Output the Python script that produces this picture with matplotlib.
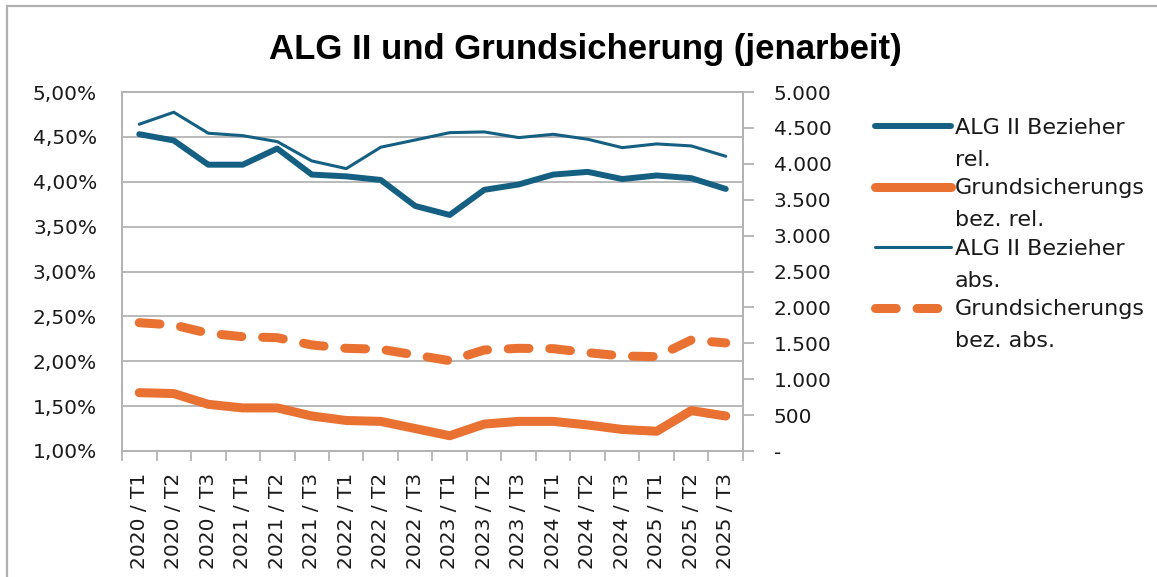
import matplotlib
matplotlib.use("Agg")
import matplotlib.pyplot as plt
from matplotlib.ticker import FuncFormatter, FixedLocator
from matplotlib.patches import Rectangle

# ---- data ----
categories = ["2020 / T1", "2020 / T2", "2020 / T3", "2021 / T1", "2021 / T2", "2021 / T3",
              "2022 / T1", "2022 / T2", "2022 / T3", "2023 / T1", "2023 / T2", "2023 / T3",
              "2024 / T1", "2024 / T2", "2024 / T3", "2025 / T1", "2025 / T2", "2025 / T3"]
alg_rel = [0.0453, 0.0446, 0.0419, 0.0419, 0.0437, 0.0408, 0.0406, 0.0402, 0.0373, 0.0363,
           0.0391, 0.0397, 0.0408, 0.0411, 0.0403, 0.0407, 0.0404, 0.0392]
gs_rel = [0.0165, 0.0164, 0.0152, 0.0148, 0.0148, 0.0139, 0.0134, 0.0133, 0.0125, 0.0117,
          0.0130, 0.0133, 0.0133, 0.0129, 0.0124, 0.0122, 0.0145, 0.0139]
alg_abs = [4551, 4718, 4426, 4392, 4309, 4040, 3933, 4231, 4332, 4434,
           4444, 4365, 4411, 4342, 4225, 4277, 4249, 4105]
gs_abs = [1787, 1755, 1640, 1592, 1578, 1477, 1430, 1417, 1337, 1258,
          1407, 1430, 1425, 1370, 1323, 1314, 1546, 1505]
legend_first = ["ALG II Bezieher", "Grundsicherungs", "ALG II Bezieher", "Grundsicherungs"]
legend_second = ["rel.", "bez. rel.", "abs.", "bez. abs."]
title = "ALG II und Grundsicherung (jenarbeit)"

BLUE = "#156082"
ORANGE = "#E97132"
GRID = "#B3B3B3"
TXT = "#1a1a1a"
W, H = 1157, 577

fig = plt.figure(figsize=(W / 100, H / 100), dpi=100)
fig.patches.append(Rectangle((7 / W, -0.1), 1.2, (H - 6) / H + 0.1, transform=fig.transFigure,
                             fill=False, edgecolor="#B0B0B0", linewidth=1.6))

ax = fig.add_axes([122 / W, 1 - 451 / H, (743 - 122) / W, (451 - 92) / H])
ax2 = ax.twinx()

x = list(range(len(categories)))
ax.plot(x, alg_rel, color=BLUE, lw=4.3, solid_capstyle="round", solid_joinstyle="round", zorder=3)
ax.plot(x, gs_rel, color=ORANGE, lw=6.5, solid_capstyle="round", solid_joinstyle="round", zorder=3)
ax2.plot(x, alg_abs, color=BLUE, lw=2.2, solid_capstyle="round", solid_joinstyle="round", zorder=3)
ax2.plot(x, gs_abs, color=ORANGE, lw=6.5, dashes=(2.3, 2.3), dash_capstyle="round",
         dash_joinstyle="round", zorder=3)

ax.set_xlim(-0.5, len(categories) - 0.5)
ax.set_ylim(0.01, 0.05)
ax2.set_ylim(0, 5000)

ax.set_yticks([0.01 + 0.005 * i for i in range(9)])
ax.yaxis.set_major_formatter(FuncFormatter(lambda v, p: f"{v * 100:.2f}%".replace(".", ",")))
ax.tick_params(axis="y", length=0, pad=18, labelsize=14.5, labelcolor=TXT)
ax.grid(axis="y", color=GRID, lw=1.3)
ax.set_axisbelow(True)

ax2.set_yticks([500 * i for i in range(11)])
ax2.yaxis.set_major_formatter(FuncFormatter(lambda v, p: "-" if v == 0 else f"{int(v):,}".replace(",", ".")))
ax2.tick_params(axis="y", length=8, width=1.3, color=GRID, pad=14, labelsize=14.5, labelcolor=TXT)

ax.set_xticks(x)
ax.set_xticklabels(categories, rotation=90, fontsize=14.5, color=TXT)
ax.tick_params(axis="x", which="major", length=0, pad=16)
ax.xaxis.set_minor_locator(FixedLocator([i - 0.5 for i in range(len(categories) + 1)]))
ax.tick_params(axis="x", which="minor", length=7, width=1.3, color=GRID)

for a in (ax, ax2):
    for s in a.spines.values():
        s.set_color(GRID)
        s.set_linewidth(1.3)

for t in ax.get_yticklabels() + ax2.get_yticklabels() + ax.get_xticklabels():
    t.set_family("DejaVu Sans")

fig.text(585 / W, 1 - 50 / H, title, ha="center", va="center",
         fontsize=25, fontweight="bold", family="Liberation Sans", color="#000000")

# legend: handle aligned with first line of each two-line label
h = ax.get_lines() + ax2.get_lines()
leg = fig.legend(h, legend_first, loc="upper left", bbox_to_anchor=(875 / W, 1 - 118 / H),
                 frameon=False, borderpad=0, borderaxespad=0, handlelength=3.4,
                 handletextpad=0.2, labelspacing=1.82, prop=dict(family="DejaVu Sans", size=16))
for t in leg.get_texts():
    t.set_color(TXT)
fig.canvas.draw()
for t, s in zip(leg.get_texts(), legend_second):
    bb = t.get_window_extent()
    fig.text(bb.x0 / W, (bb.y0 - 32) / H, s, ha="left", va="bottom",
             family="DejaVu Sans", fontsize=16, color=TXT)

fig.savefig("out.png", dpi=100)
